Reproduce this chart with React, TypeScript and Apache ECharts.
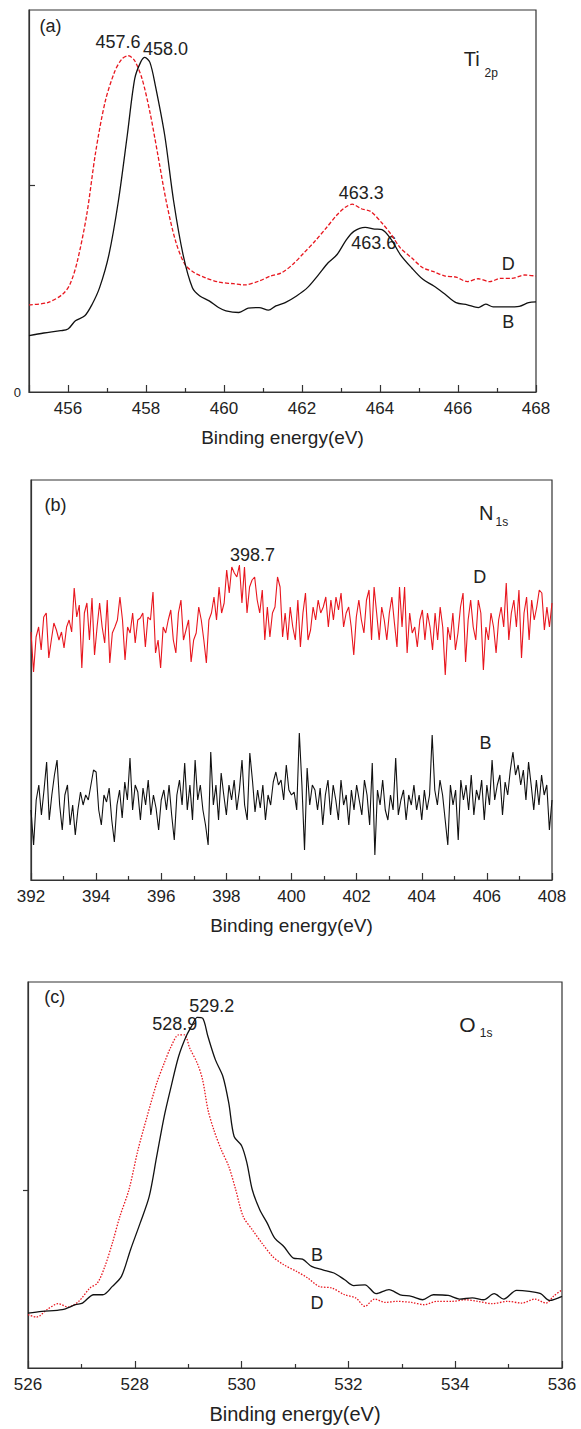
import React, { useEffect, useRef } from "react";
import * as echarts from "echarts";

// ---------- Panel (a) Ti 2p ----------
const TI_B_E = [455.0, 455.38, 455.81, 456.0, 456.19, 456.43, 456.62, 456.81, 457.05, 457.29, 457.52, 457.71, 457.86, 457.97, 458.1, 458.24, 458.48, 458.71, 458.95, 459.19, 459.38, 459.62, 459.86, 460.05, 460.38, 460.62, 460.9, 461.14, 461.33, 461.57, 461.86, 462.14, 462.43, 462.67, 462.9, 463.14, 463.33, 463.62, 463.86, 464.05, 464.29, 464.52, 464.81, 465.1, 465.38, 465.67, 465.95, 466.24, 466.52, 466.71, 466.9, 467.19, 467.57, 467.81, 468.0];
const TI_B_V = [0.272, 0.285, 0.296, 0.304, 0.344, 0.368, 0.424, 0.504, 0.664, 0.92, 1.24, 1.512, 1.592, 1.616, 1.592, 1.48, 1.24, 0.92, 0.664, 0.504, 0.464, 0.44, 0.408, 0.392, 0.384, 0.405, 0.408, 0.395, 0.416, 0.432, 0.464, 0.504, 0.568, 0.624, 0.664, 0.736, 0.776, 0.795, 0.787, 0.784, 0.736, 0.664, 0.6, 0.544, 0.512, 0.472, 0.432, 0.421, 0.408, 0.424, 0.411, 0.411, 0.414, 0.432, 0.435];
const TI_D_E = [455.0, 455.48, 455.86, 456.05, 456.24, 456.48, 456.71, 456.95, 457.19, 457.38, 457.55, 457.71, 457.9, 458.1, 458.29, 458.52, 458.76, 459.0, 459.24, 459.52, 459.86, 460.24, 460.52, 460.9, 461.19, 461.48, 461.76, 462.05, 462.33, 462.62, 462.9, 463.1, 463.29, 463.52, 463.76, 464.05, 464.29, 464.52, 464.81, 465.1, 465.38, 465.67, 465.95, 466.24, 466.52, 466.81, 467.1, 467.38, 467.71, 468.0];
const TI_D_V = [0.421, 0.432, 0.472, 0.52, 0.632, 0.856, 1.16, 1.4, 1.544, 1.608, 1.624, 1.6, 1.512, 1.352, 1.16, 0.92, 0.728, 0.616, 0.576, 0.552, 0.531, 0.523, 0.517, 0.536, 0.56, 0.576, 0.616, 0.672, 0.728, 0.792, 0.856, 0.891, 0.907, 0.885, 0.872, 0.816, 0.76, 0.696, 0.648, 0.6, 0.581, 0.56, 0.555, 0.533, 0.547, 0.533, 0.549, 0.549, 0.565, 0.56];

// ---------- Panel (b) N 1s (evenly spaced scans from 392 to 408 eV) ----------
const N_START = 392;
const N_END = 408;
const N_D_V = [248, 208, 243, 253, 230, 263, 267, 222, 240, 257, 250, 240, 248, 232, 253, 260, 248, 292, 263, 275, 212, 267, 277, 240, 282, 225, 253, 277, 253, 237, 280, 217, 247, 253, 260, 283, 260, 220, 253, 247, 267, 237, 260, 262, 267, 233, 263, 260, 288, 227, 240, 212, 253, 247, 260, 270, 240, 227, 267, 280, 240, 250, 260, 218, 240, 247, 273, 260, 240, 217, 260, 267, 283, 260, 293, 267, 277, 310, 287, 313, 307, 303, 315, 277, 313, 267, 293, 300, 303, 280, 267, 290, 240, 273, 243, 267, 273, 303, 293, 243, 267, 240, 273, 253, 240, 280, 233, 267, 287, 240, 250, 273, 260, 280, 267, 273, 283, 253, 280, 260, 283, 270, 287, 253, 267, 273, 253, 225, 263, 280, 260, 247, 280, 290, 240, 293, 267, 240, 273, 260, 240, 267, 283, 257, 233, 293, 253, 293, 227, 267, 247, 253, 233, 260, 270, 240, 267, 253, 230, 267, 240, 273, 253, 205, 253, 240, 267, 230, 247, 273, 287, 218, 260, 280, 253, 240, 280, 267, 210, 253, 240, 267, 253, 227, 260, 273, 253, 297, 240, 267, 280, 253, 290, 222, 267, 283, 240, 280, 260, 273, 290, 287, 250, 273, 253, 277];
const N_B_V = [70, 35, 80, 95, 65, 90, 118, 60, 85, 105, 120, 75, 50, 85, 95, 55, 75, 45, 70, 88, 75, 85, 80, 95, 110, 108, 70, 55, 85, 78, 92, 60, 38, 75, 90, 62, 98, 80, 122, 70, 95, 88, 60, 92, 75, 100, 65, 85, 72, 50, 80, 90, 70, 95, 65, 40, 85, 100, 75, 117, 70, 95, 60, 120, 80, 95, 70, 55, 35, 128, 75, 95, 60, 107, 85, 65, 95, 80, 100, 70, 90, 120, 75, 60, 127, 100, 68, 90, 72, 95, 60, 85, 75, 98, 108, 95, 100, 80, 115, 90, 85, 88, 70, 147, 95, 30, 112, 75, 95, 90, 70, 92, 55, 85, 100, 65, 95, 80, 60, 100, 75, 85, 55, 90, 70, 95, 80, 65, 100, 85, 55, 117, 25, 90, 75, 100, 70, 60, 85, 70, 122, 65, 80, 90, 60, 85, 75, 95, 70, 85, 60, 90, 70, 85, 145, 90, 75, 100, 85, 60, 35, 95, 75, 90, 40, 100, 80, 95, 70, 105, 65, 90, 80, 100, 60, 95, 75, 120, 80, 95, 105, 65, 98, 85, 110, 128, 105, 115, 95, 110, 80, 118, 95, 70, 100, 75, 105, 85, 95, 50, 80];

// ---------- Panel (c) O 1s ----------
const O_B_E = [526.0, 526.26, 526.64, 526.89, 527.02, 527.23, 527.4, 527.58, 527.75, 527.92, 528.1, 528.27, 528.41, 528.55, 528.68, 528.82, 528.96, 529.06, 529.17, 529.27, 529.37, 529.51, 529.65, 529.76, 529.86, 530.0, 530.1, 530.2, 530.34, 530.48, 530.62, 530.79, 530.97, 531.14, 531.31, 531.52, 531.73, 531.93, 532.1, 532.31, 532.52, 532.76, 532.97, 533.18, 533.39, 533.59, 533.87, 534.08, 534.32, 534.53, 534.73, 534.91, 535.15, 535.39, 535.6, 535.77, 536.0];
const O_B_V = [0.308, 0.318, 0.327, 0.355, 0.364, 0.411, 0.411, 0.458, 0.514, 0.664, 0.813, 0.963, 1.187, 1.411, 1.579, 1.748, 1.86, 1.916, 1.968, 1.963, 1.86, 1.729, 1.636, 1.486, 1.299, 1.247, 1.15, 1.0, 0.888, 0.813, 0.729, 0.682, 0.617, 0.611, 0.57, 0.551, 0.533, 0.495, 0.462, 0.467, 0.417, 0.44, 0.411, 0.402, 0.383, 0.411, 0.407, 0.387, 0.393, 0.383, 0.417, 0.387, 0.436, 0.43, 0.417, 0.379, 0.402];
const O_D_E = [526.0, 526.16, 526.37, 526.57, 526.75, 526.95, 527.16, 527.3, 527.44, 527.58, 527.72, 527.89, 528.06, 528.23, 528.41, 528.55, 528.68, 528.82, 528.93, 529.03, 529.17, 529.27, 529.37, 529.48, 529.62, 529.76, 529.89, 530.03, 530.2, 530.38, 530.58, 530.79, 531.03, 531.24, 531.45, 531.69, 531.93, 532.14, 532.31, 532.49, 532.69, 532.9, 533.18, 533.42, 533.66, 533.94, 534.18, 534.42, 534.7, 534.98, 535.25, 535.49, 535.7, 535.84, 536.0];
const O_D_V = [0.299, 0.286, 0.331, 0.361, 0.342, 0.374, 0.449, 0.477, 0.57, 0.701, 0.85, 1.0, 1.224, 1.411, 1.598, 1.71, 1.804, 1.869, 1.869, 1.794, 1.71, 1.617, 1.449, 1.336, 1.224, 1.131, 1.0, 0.85, 0.776, 0.701, 0.626, 0.579, 0.542, 0.505, 0.458, 0.449, 0.411, 0.393, 0.346, 0.387, 0.368, 0.374, 0.368, 0.355, 0.374, 0.374, 0.383, 0.374, 0.361, 0.374, 0.364, 0.387, 0.364, 0.402, 0.439];

// ---------- Annotations (data coordinates per panel) ----------
type Note = { g: number; x: number; y: number; text: string; size: number };
const NOTES: Note[] = [
  { g: 0, x: 455.55, y: 1.77, text: "(a)", size: 18 },
  { g: 0, x: 457.28, y: 1.69, text: "457.6", size: 18 },
  { g: 0, x: 458.5, y: 1.656, text: "458.0", size: 18 },
  { g: 0, x: 466.35, y: 1.608, text: "Ti", size: 20 },
  { g: 0, x: 466.85, y: 1.54, text: "2p", size: 12 },
  { g: 0, x: 463.52, y: 0.96, text: "463.3", size: 18 },
  { g: 0, x: 463.84, y: 0.72, text: "463.6", size: 18 },
  { g: 0, x: 467.29, y: 0.616, text: "D", size: 18 },
  { g: 0, x: 467.29, y: 0.336, text: "B", size: 18 },
  { g: 1, x: 392.75, y: 375, text: "(b)", size: 18 },
  { g: 1, x: 405.98, y: 367, text: "N", size: 20 },
  { g: 1, x: 406.46, y: 358, text: "1s", size: 12 },
  { g: 1, x: 398.8, y: 325, text: "398.7", size: 18 },
  { g: 1, x: 405.78, y: 303, text: "D", size: 18 },
  { g: 1, x: 405.96, y: 137, text: "B", size: 18 },
  { g: 2, x: 526.5, y: 2.08, text: "(c)", size: 18 },
  { g: 2, x: 529.44, y: 2.03, text: "529.2", size: 18 },
  { g: 2, x: 528.75, y: 1.93, text: "528.9", size: 18 },
  { g: 2, x: 534.23, y: 1.93, text: "O", size: 21 },
  { g: 2, x: 534.58, y: 1.88, text: "1s", size: 12 },
  { g: 2, x: 531.41, y: 0.636, text: "B", size: 18 },
  { g: 2, x: 531.41, y: 0.364, text: "D", size: 18 },
];

const FONT = "'Liberation Sans', Arial, sans-serif";
const RED = "#e8161e";
const BLACK = "#111111";
const AXIS = "#333333";

function pairs(xs: number[], ys: number[]) {
  return xs.map((x, i) => [x, ys[i]]);
}
function evenPairs(start: number, end: number, ys: number[]) {
  const step = (end - start) / (ys.length - 1);
  return ys.map((y, i) => [start + i * step, y]);
}

function xAxisFor(gridIndex: number, min: number, max: number, extra: any, nameSize: number) {
  return {
    type: "value",
    gridIndex,
    min,
    max,
    ...extra,
    name: "Binding energy(eV)",
    nameLocation: "middle",
    nameGap: 36,
    nameTextStyle: { fontSize: nameSize, color: "#222", fontFamily: FONT },
    axisLine: { show: true, onZero: false, lineStyle: { color: AXIS, width: 1.2 } },
    axisTick: { show: true, inside: true, length: 7, lineStyle: { color: AXIS, width: 1.2 } },
    minorTick: { show: true, splitNumber: 2, length: 4, lineStyle: { color: AXIS, width: 1.2 } },
    axisLabel: { fontSize: 17, color: "#222", fontFamily: FONT, margin: 8, showMinLabel: extra.showMinLabel ?? true },
    splitLine: { show: false },
  };
}

export default function App() {
  const ref = useRef<HTMLDivElement>(null);
  useEffect(() => {
    document.body.style.margin = "0";
    if (!ref.current) return;
    const chart = echarts.init(ref.current, null, { renderer: "svg" });
    const grids = [
      { left: 29, top: 10, width: 507, height: 382 },
      { left: 31, top: 480, width: 521, height: 400 },
      { left: 28, top: 982, width: 534, height: 386 },
    ].map((g) => ({ ...g, show: true, borderColor: AXIS, borderWidth: 1.2, backgroundColor: "transparent" }));

    const option: any = {
      animation: false,
      backgroundColor: "#ffffff",
      textStyle: { fontFamily: FONT },
      grid: grids,
      xAxis: [
        { ...xAxisFor(0, 455, 468, { splitNumber: 6 }, 19), axisLabel: { fontSize: 17, color: "#222", fontFamily: FONT, margin: 8, showMinLabel: false } },
        xAxisFor(1, 392, 408, { interval: 2 }, 19),
        xAxisFor(2, 526, 536, { interval: 2 }, 20),
      ],
      yAxis: [
        {
          type: "value", gridIndex: 0, min: 0, max: 1.845, interval: 1,
          axisLine: { show: true, lineStyle: { color: AXIS, width: 1.2 } },
          axisTick: { show: true, inside: true, length: 6, customValues: [1], lineStyle: { color: AXIS, width: 1.2 } },
          axisLabel: { show: true, customValues: [0], formatter: () => "0", fontSize: 13, color: "#222", fontFamily: FONT, margin: 8 },
          splitLine: { show: false },
        },
        {
          type: "value", gridIndex: 1, min: 0, max: 400,
          axisLine: { show: true, lineStyle: { color: AXIS, width: 1.2 } },
          axisTick: { show: false }, axisLabel: { show: false }, splitLine: { show: false },
        },
        {
          type: "value", gridIndex: 2, min: 0, max: 2.166, interval: 1,
          axisLine: { show: true, lineStyle: { color: AXIS, width: 1.2 } },
          axisTick: { show: true, inside: false, length: 5, customValues: [1], lineStyle: { color: AXIS, width: 1.2 } },
          axisLabel: { show: false }, splitLine: { show: false },
        },
      ],
      series: [
        { name: "Ti2p D", type: "line", xAxisIndex: 0, yAxisIndex: 0, data: pairs(TI_D_E, TI_D_V), showSymbol: false, smooth: 0.3, lineStyle: { color: RED, width: 1.3, type: [4, 2] } },
        { name: "Ti2p B", type: "line", xAxisIndex: 0, yAxisIndex: 0, data: pairs(TI_B_E, TI_B_V), showSymbol: false, smooth: 0.3, lineStyle: { color: BLACK, width: 1.3 } },
        { name: "N1s D", type: "line", xAxisIndex: 1, yAxisIndex: 1, data: evenPairs(N_START, N_END, N_D_V), showSymbol: false, lineStyle: { color: RED, width: 1.1 } },
        { name: "N1s B", type: "line", xAxisIndex: 1, yAxisIndex: 1, data: evenPairs(N_START, N_END, N_B_V), showSymbol: false, lineStyle: { color: BLACK, width: 1.1 } },
        { name: "O1s D", type: "line", xAxisIndex: 2, yAxisIndex: 2, data: pairs(O_D_E, O_D_V), showSymbol: false, smooth: 0.3, lineStyle: { color: RED, width: 1.3, type: [1.5, 1.5] } },
        { name: "O1s B", type: "line", xAxisIndex: 2, yAxisIndex: 2, data: pairs(O_B_E, O_B_V), showSymbol: false, smooth: 0.3, lineStyle: { color: BLACK, width: 1.3 } },
      ],
    };
    chart.setOption(option);

    const elements = NOTES.map((n) => {
      const p = chart.convertToPixel({ gridIndex: n.g } as any, [n.x, n.y]) as number[];
      return {
        type: "text",
        x: p[0],
        y: p[1],
        silent: true,
        style: { text: n.text, fontSize: n.size, fill: "#222", fontFamily: FONT, align: "center", verticalAlign: "middle" },
      };
    });
    chart.setOption({ graphic: { elements } });

    return () => chart.dispose();
  }, []);
  return <div ref={ref} style={{ width: 581, height: 1429 }} />;
}
